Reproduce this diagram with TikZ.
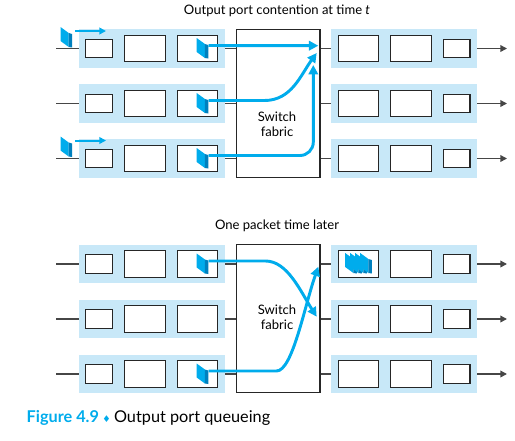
\documentclass[tikz,border=0pt]{standalone}
\usepackage{fontspec}
\setmainfont{Lato}
\newfontfamily\symfont{DejaVu Sans}
\usepackage{xcolor}
\usetikzlibrary{arrows.meta,positioning,calc}

\definecolor{portbg}{RGB}{200,232,248}
\definecolor{pktblue}{RGB}{0,172,236}
\definecolor{pktdark}{RGB}{0,128,190}
\definecolor{wiregray}{RGB}{70,70,70}

\begin{document}
\begin{tikzpicture}[
    x=0.75pt, y=-0.75pt,
    font=\fontsize{9.8}{11.5}\selectfont,
    portbox/.style={rectangle, fill=portbg, minimum width=109.5pt, minimum height=28.9pt, inner sep=0pt},
    slot/.style={rectangle, draw=black!85, line width=0.9pt, fill=white, minimum width=30.5pt, minimum height=20pt, inner sep=0pt},
    smallslot/.style={slot, minimum width=20pt, minimum height=14pt},
    fabric/.style={rectangle, draw=black!85, line width=0.9pt, fill=white, minimum width=62.5pt, minimum height=111pt},
    fablabel/.style={align=center},
    wire/.style={draw=wiregray, line width=1.1pt},
    outwire/.style={wire, -{Triangle[length=5pt,width=5pt]}},
    flow/.style={draw=pktblue, line width=2.2pt, -{Triangle[length=7pt,width=7pt]}},
    inflow/.style={draw=pktblue, line width=1.5pt, -{Triangle[length=5pt,width=5pt]}},
    packet/.pic={
        \fill[pktblue] (-5.8,-10) -- (2.4,-4) -- (2.4,10) -- (-5.8,4) -- cycle;
        \fill[pktdark] (2.4,-4) -- (5.8,-3) -- (5.8,10.5) -- (2.4,10) -- cycle;
        \coordinate (-out) at (6,-2.5);
        \coordinate (-tail) at (8.7,-6);
    }
]
\useasboundingbox (0,0) rectangle (515,440);

% top: output port contention at time t
\node (ttitle) at (277,11) {Output port contention at time \textit{t}};
\node[fabric] (tsw) at (278.3,103.3) {};
\node[fablabel] (tlab) at (277,124) {Switch\\fabric};

\foreach \r/\y in {1/48.5,2/103.5,3/158.5}{
    \node[portbox] (tin\r) at (152.2,\y) {};
    \node[smallslot] (tin\r-1) at (99.2,\y) {};
    \node[slot] (tin\r-2) at (144.8,\y) {};
    \node[slot] (tin\r-3) at (197.5,\y) {};
    \node[portbox] (tout\r) at (404.2,\y) {};
    \node[slot] (tout\r-1) at (358.5,\y) {};
    \node[slot] (tout\r-2) at (411.2,\y) {};
    \node[smallslot] (tout\r-3) at (456.7,\y) {};
    \coordinate (tsrc\r) at (56,\y);
    \coordinate (tdst\r) at (507,\y);
    \draw[wire] (tsrc\r) -- (tin\r);
    \draw[wire] (tin\r.east) -- (tsw.west |- tin\r.east);
    \draw[wire] (tsw.east |- tout\r.west) -- (tout\r.west);
    \draw[outwire] (tout\r.east) -- (tdst\r);
    \pic (tp\r) at (202.5,\y-0.5) {packet};
}

% arriving packets
\pic (tq1) at (66.3,37) {packet};
\pic (tq3) at (66.3,146.5) {packet};
\coordinate (tqend1) at (106,31);
\coordinate (tqend3) at (106,140.5);
\draw[inflow] (tq1-tail) -- (tqend1);
\draw[inflow] (tq3-tail) -- (tqend3);

\coordinate (tend1) at (318.3,45.7);
\coordinate (tend2) at (316.7,53);
\coordinate (tend3) at (313.3,65);
\draw[flow] (tp1-out) -- (tend1);
\draw[flow] (tp2-out) -- ++(56,0) .. controls +(27,0) and +(-16,22) .. (tend2);
\draw[flow, rounded corners=10pt] (tp3-out) -| (tend3);

% bottom: one packet time later
\node (btitle) at (277,225.5) {One packet time later};
\node[fabric] (bsw) at (278.3,318.5) {};
\node[fablabel] (blab) at (277,317) {Switch\\fabric};

\foreach \r/\y in {1/264,2/319,3/374}{
    \node[portbox] (bin\r) at (152.2,\y) {};
    \node[smallslot] (bin\r-1) at (99.2,\y) {};
    \node[slot] (bin\r-2) at (144.8,\y) {};
    \node[slot] (bin\r-3) at (197.5,\y) {};
    \node[portbox] (bout\r) at (404.2,\y) {};
    \node[slot] (bout\r-1) at (358.5,\y) {};
    \node[slot] (bout\r-2) at (411.2,\y) {};
    \node[smallslot] (bout\r-3) at (456.7,\y) {};
    \coordinate (bsrc\r) at (56,\y);
    \coordinate (bdst\r) at (507,\y);
    \draw[wire] (bsrc\r) -- (bin\r);
    \draw[wire] (bin\r.east) -- (bsw.west |- bin\r.east);
    \draw[wire] (bsw.east |- bout\r.west) -- (bout\r.west);
    \draw[outwire] (bout\r.east) -- (bdst\r);
}
\pic (bp1) at (202.5,263.5) {packet};
\pic (bp3) at (202.5,373.5) {packet};

% queued at output port
\pic (bq1) at (351,263) {packet};
\pic (bq2) at (356,263) {packet};
\pic (bq3) at (361,263) {packet};
\pic (bq4) at (366,263) {packet};

\coordinate (bend1) at (316.7,316.7);
\coordinate (bend3) at (318.3,266.7);
\draw[flow] (bp1-out) -- ++(57,0) .. controls +(22,0) and +(-16,-25) .. (bend1);
\draw[flow] (bp3-out) -- ++(68,0) .. controls +(16,0) and +(-14,40) .. (bend3);

\node[anchor=base west] (caption) at (22,422) {{\fontsize{12.2}{14}\selectfont\bfseries\color{pktblue}Figure 4.9} {\symfont\fontsize{7}{8}\selectfont\color{pktblue}♦} {\fontsize{12.2}{14}\selectfont Output port queueing}};
\end{tikzpicture}
\end{document}
